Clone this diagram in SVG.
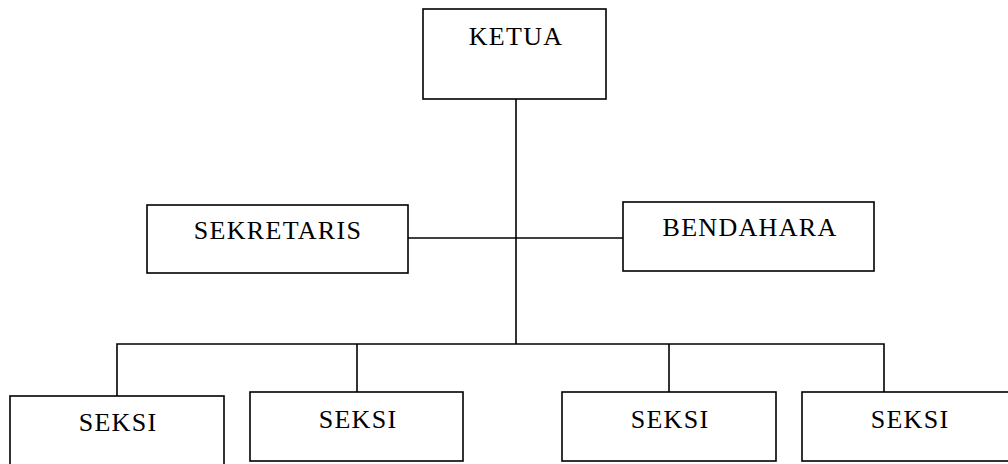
<svg xmlns="http://www.w3.org/2000/svg" width="1008" height="464" viewBox="0 0 1008 464">
<style>
.box{fill:#fff;stroke:#000;stroke-width:1.6}
.lbl{font-family:"Liberation Serif","DejaVu Serif",serif;font-size:26px;letter-spacing:1.3px;fill:#000;text-anchor:middle}
.con{stroke:#000;stroke-width:1.6;fill:none}
</style>
<rect width="1008" height="464" fill="#fff"/>
<g id="connectors">
<line class="con" x1="516" y1="99" x2="516" y2="344"/>
<line class="con" x1="408" y1="238" x2="623" y2="238"/>
<polyline class="con" points="117,396 117,344 884,344 884,392"/>
<line class="con" x1="357" y1="344" x2="357" y2="392"/>
<line class="con" x1="669" y1="344" x2="669" y2="392"/>
</g>
<g id="ketua"><rect class="box" x="423" y="9" width="183" height="90"/><text class="lbl" x="516" y="45">KETUA</text></g>
<g id="sekretaris"><rect class="box" x="147" y="205" width="261" height="68"/><text class="lbl" x="278" y="239">SEKRETARIS</text></g>
<g id="bendahara"><rect class="box" x="623" y="202" width="251" height="69"/><text class="lbl" x="750" y="236">BENDAHARA</text></g>
<g id="seksi1"><rect class="box" x="10" y="396" width="214" height="80"/><text class="lbl" x="118" y="431">SEKSI</text></g>
<g id="seksi2"><rect class="box" x="250" y="392" width="213" height="69"/><text class="lbl" x="358" y="428">SEKSI</text></g>
<g id="seksi3"><rect class="box" x="562" y="392" width="214" height="69"/><text class="lbl" x="670" y="428">SEKSI</text></g>
<g id="seksi4"><rect class="box" x="802" y="392" width="214" height="69"/><text class="lbl" x="910" y="428">SEKSI</text></g>
</svg>
